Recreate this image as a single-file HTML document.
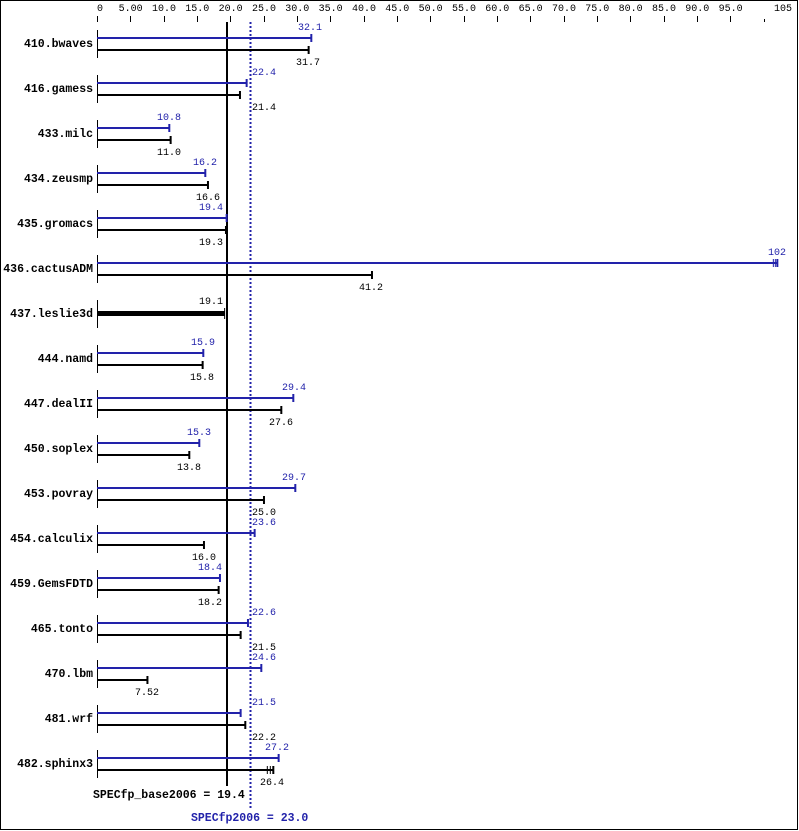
<!DOCTYPE html>
<html><head><meta charset="utf-8"><style>
body{margin:0;background:#fff}
svg{display:block}
text{font-family:"Liberation Mono",monospace;font-size:10px}
.n{font-weight:bold;font-size:11.5px}
.b{fill:#2222aa}
</style></head><body>
<svg width="799" height="831" xmlns="http://www.w3.org/2000/svg">
<rect x="0.5" y="0.5" width="797" height="829" fill="none" stroke="#000"/>
<g id="axis" text-anchor="middle">
<text x="100" y="11">0</text>
<text x="130.6" y="11">5.00</text><text x="164" y="11">10.0</text><text x="197.3" y="11">15.0</text>
<text x="230.6" y="11">20.0</text><text x="264" y="11">25.0</text><text x="297.3" y="11">30.0</text>
<text x="330.6" y="11">35.0</text><text x="364" y="11">40.0</text><text x="397.3" y="11">45.0</text>
<text x="430.6" y="11">50.0</text><text x="464" y="11">55.0</text><text x="497.3" y="11">60.0</text>
<text x="530.6" y="11">65.0</text><text x="564" y="11">70.0</text><text x="597.3" y="11">75.0</text>
<text x="630.6" y="11">80.0</text><text x="664" y="11">85.0</text><text x="697.3" y="11">90.0</text>
<text x="730.6" y="11">95.0</text><text x="783" y="11">105</text>
</g>
<g stroke="#000" stroke-width="1">
<path d="M97.5 16v6M130.5 16v6M164.5 16v6M197.5 16v6M230.5 16v6M264.5 16v6M297.5 16v6M330.5 16v6M364.5 16v6M397.5 16v6M430.5 16v6M464.5 16v6M497.5 16v6M530.5 16v6M564.5 16v6M597.5 16v6M630.5 16v6M664.5 16v6M697.5 16v6M730.5 16v6M764.5 19v3M797.5 16v6"/>
</g>
<line x1="227" y1="22" x2="227" y2="786" stroke="#000" stroke-width="2"/>
<line x1="250.5" y1="22" x2="250.5" y2="808" stroke="#2222aa" stroke-width="2" stroke-dasharray="2,2"/>
<g id="rows"></g>
<text class="n" x="93" y="798">SPECfp_base2006 = 19.4</text>
<text class="n b" x="191" y="821">SPECfp2006 = 23.0</text>
</svg>
<script>
var d=[
["410.bwaves","32.1",298,"31.7",296],
["416.gamess","22.4",252,"21.4",252],
["433.milc","10.8",157,"11.0",157],
["434.zeusmp","16.2",193,"16.6",196],
["435.gromacs","19.4",199,"19.3",199],
["436.cactusADM","102",768,"41.2",359],
["437.leslie3d",null,0,"19.1",199],
["444.namd","15.9",191,"15.8",190],
["447.dealII","29.4",282,"27.6",269],
["450.soplex","15.3",187,"13.8",177],
["453.povray","29.7",282,"25.0",252],
["454.calculix","23.6",252,"16.0",192],
["459.GemsFDTD","18.4",198,"18.2",198],
["465.tonto","22.6",252,"21.5",252],
["470.lbm","24.6",252,"7.52",135],
["481.wrf","21.5",252,"22.2",252],
["482.sphinx3","27.2",265,"26.4",260]];
var s="",X=function(v){return 97.3+parseFloat(v)*6.667};
d.forEach(function(r,i){
 var by=38+45*i,ky=50+45*i;
 s+='<text class="n" x="93" y="'+(by+9)+'" text-anchor="end">'+r[0]+'</text>';
 s+='<line x1="97.5" y1="'+(by-8)+'" x2="97.5" y2="'+(ky+8)+'" stroke="#000"/>';
 if(r[1]===null){
  var e=X(r[3]);
  s+='<rect x="97" y="'+(by+3)+'" width="'+(e-97)+'" height="5" fill="#000"/>';
  s+='<line x1="'+e+'" y1="'+(by)+'" x2="'+e+'" y2="'+(by+11)+'" stroke="#000"/>';
  s+='<text x="'+r[4]+'" y="'+(by-4)+'">'+r[3]+'</text>';
  return;
 }
 var e1=X(r[1]),e2=X(r[3]);
 s+='<line x1="97" y1="'+by+'" x2="'+e1+'" y2="'+by+'" stroke="#2222aa" stroke-width="2"/>';
 s+='<line x1="'+e1+'" y1="'+(by-4)+'" x2="'+e1+'" y2="'+(by+4)+'" stroke="#2222aa" stroke-width="2"/>';
 if(i==5){s+='<line x1="'+(e1-4)+'" y1="'+(by-4)+'" x2="'+(e1-4)+'" y2="'+(by+4)+'" stroke="#2222aa"/><line x1="'+(e1-2)+'" y1="'+(by-4)+'" x2="'+(e1-2)+'" y2="'+(by+4)+'" stroke="#2222aa"/>';}
 s+='<text class="b" x="'+r[2]+'" y="'+(by-8)+'">'+r[1]+'</text>';
 s+='<line x1="97" y1="'+ky+'" x2="'+e2+'" y2="'+ky+'" stroke="#000" stroke-width="2"/>';
 s+='<line x1="'+e2+'" y1="'+(ky-4)+'" x2="'+e2+'" y2="'+(ky+4)+'" stroke="#000" stroke-width="2"/>';
 if(i==16){s+='<line x1="'+(e2-6)+'" y1="'+(ky-4)+'" x2="'+(e2-6)+'" y2="'+(ky+4)+'" stroke="#000"/><line x1="'+(e2-3)+'" y1="'+(ky-4)+'" x2="'+(e2-3)+'" y2="'+(ky+4)+'" stroke="#000"/>';}
 s+='<text x="'+r[4]+'" y="'+(ky+15)+'">'+r[3]+'</text>';
});
document.getElementById("rows").innerHTML=s;
</script>
</body></html>
